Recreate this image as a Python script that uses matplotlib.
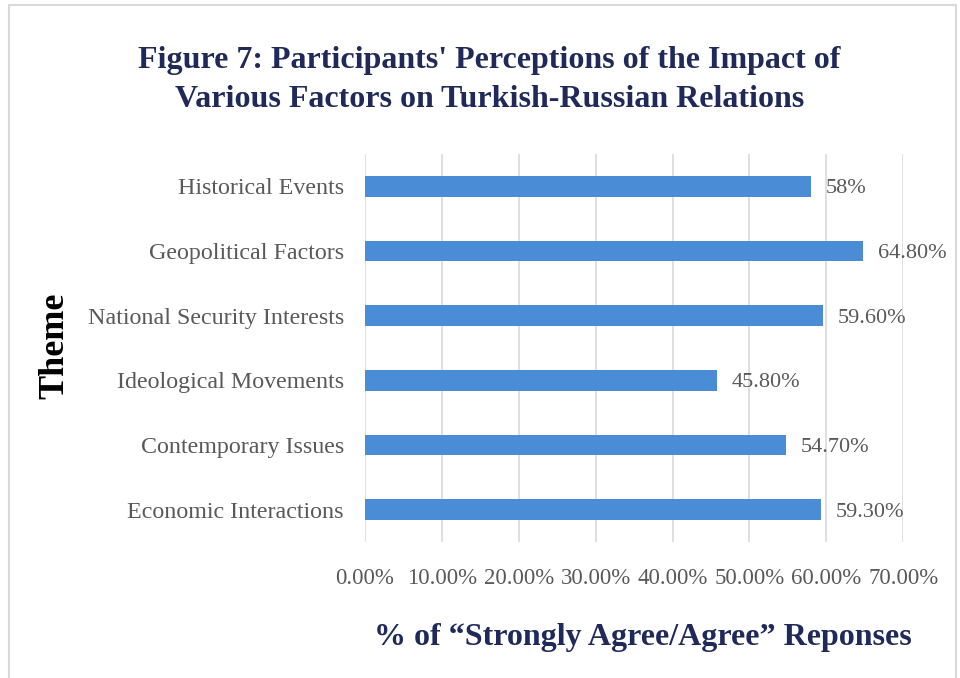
import matplotlib
matplotlib.use("Agg")
import matplotlib.pyplot as plt
from matplotlib.patches import Rectangle
from matplotlib.ticker import FuncFormatter, MultipleLocator

themes = [
    "Economic Interactions",
    "Contemporary Issues",
    "Ideological Movements",
    "National Security Interests",
    "Geopolitical Factors",
    "Historical Events",
]
agree_pct = [59.3, 54.7, 45.8, 59.6, 64.8, 58.0]
value_labels = ["59.30%", "54.70%", "45.80%", "59.60%", "64.80%", "58%"]

title_text = "Figure 7: Participants' Perceptions of the Impact of\nVarious Factors on Turkish-Russian Relations"
xlabel_text = "% of \u201cStrongly Agree/Agree\u201d Reponses"
ylabel_text = "Theme"

NAVY = "#1F2A5A"
GREY = "#595959"
BAR = "#4A8CD6"
SERIF = ["Liberation Serif", "DejaVu Serif"]

fig = plt.figure(figsize=(9.6, 6.78), dpi=100)
fig.patch.set_facecolor("white")
ax = fig.add_axes([0.380, 0.2006, 0.561, 0.5724])

y = list(range(len(themes)))
ax.barh(y, agree_pct, height=0.32, color=BAR, zorder=3)

for yi, v, lab in zip(y, agree_pct, value_labels):
    ax.text(v + 1.9, yi - 0.04, lab, va="center", ha="left", fontsize=16,
            family=SERIF, color=GREY, zorder=4)

ax.set_xlim(0, 70)
ax.set_ylim(-0.5, len(themes) - 0.5)
ax.xaxis.set_major_locator(MultipleLocator(10))
ax.xaxis.set_major_formatter(FuncFormatter(lambda v, p: f"{v:.2f}%"))
ax.set_yticks(y)
ax.set_yticklabels(themes)
ax.grid(axis="x", color="#D9D9D9", linewidth=1.2, zorder=0)
ax.tick_params(length=0, labelsize=16.5, labelcolor=GREY)
ax.tick_params(axis="y", labelsize=17.3, pad=15)
ax.tick_params(axis="x", pad=19)
for lbl in ax.get_xticklabels() + ax.get_yticklabels():
    lbl.set_family(SERIF)
for s in ax.spines.values():
    s.set_visible(False)

fig.text(0.510, 0.882, title_text, ha="center", va="center", fontsize=23,
         fontweight="bold", family=SERIF, color=NAVY, linespacing=1.48)
fig.text(0.670, 0.060, xlabel_text, ha="center", va="center", fontsize=23,
         fontweight="bold", family=SERIF, color=NAVY)
fig.text(0.057, 0.490, ylabel_text, ha="center", va="center", rotation=90,
         fontsize=26, fontweight="bold", family=SERIF, color="black")

fig.patches.append(Rectangle((0.009, -0.01), 0.987, 1.003, transform=fig.transFigure,
                             fill=False, edgecolor="#D9D9D9", linewidth=1.5))

fig.savefig("out.png", dpi=100, facecolor="white")
